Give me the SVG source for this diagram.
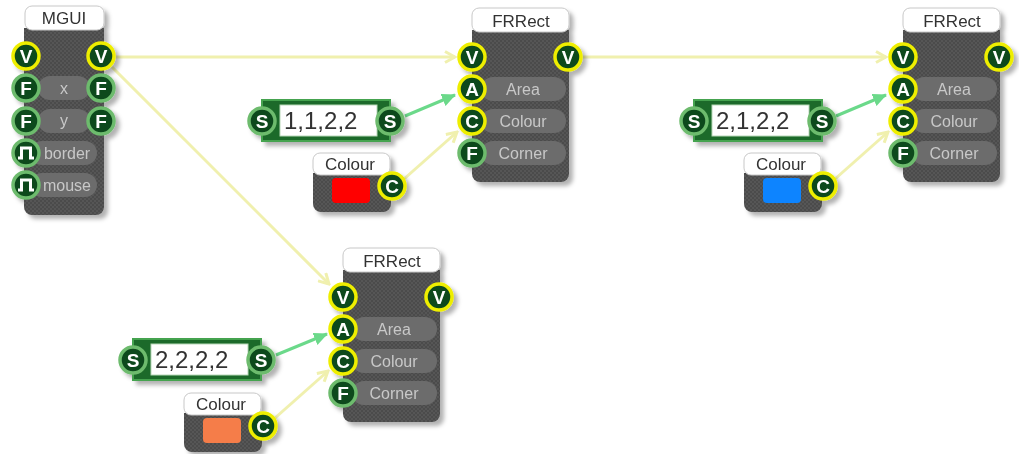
<svg xmlns="http://www.w3.org/2000/svg" width="1019" height="454" viewBox="0 0 1019 454">
<style>
.body{fill:url(#tex)}
.title{fill:#fff;stroke:#c8c8c8;stroke-width:1}
.tt{font-family:"Liberation Sans",Arial,sans-serif;font-size:17px;fill:#333;text-anchor:middle}
.pill{fill:#6c6c6c}
.pt{font-family:"Liberation Sans",Arial,sans-serif;font-size:16px;fill:#c8c8c8;text-anchor:middle}
.ry{fill:#0c4a1b;stroke:#eeee00;stroke-width:3.5}
.rg{fill:#0c4a1b;stroke:#6dbb6d;stroke-width:3.5}
.pl{font-family:"Liberation Sans",Arial,sans-serif;font-size:19px;font-weight:bold;fill:#fff;text-anchor:middle}
.pulse{fill:none;stroke:#fff;stroke-width:3;stroke-linejoin:miter}
.sframe{fill:#1d6b29;stroke:#45a350;stroke-width:2}
.sbox{fill:#fff;stroke:#b9d9b9;stroke-width:1}
.stxt{font-family:"Liberation Sans",Arial,sans-serif;font-size:24px;fill:#333}
.cy{fill:none;stroke:#f0f0ae;stroke-width:3;marker-end:url(#chev)}
.cg{fill:none;stroke:#6bd98a;stroke-width:3;marker-end:url(#tri)}
</style>
<defs>
<pattern id="tex" width="4" height="4" patternUnits="userSpaceOnUse">
<rect width="4" height="4" fill="#575757"/>
<rect width="2" height="2" fill="#4c4c4c"/>
<rect x="2" y="2" width="2" height="2" fill="#4c4c4c"/>
</pattern>
<filter id="sh" x="-20%" y="-20%" width="150%" height="150%">
<feDropShadow dx="4" dy="4" stdDeviation="2" flood-color="#000" flood-opacity="0.3"/>
</filter>
<marker id="chev" viewBox="0 0 14 14" markerWidth="14" markerHeight="14" refX="12" refY="7" orient="auto" markerUnits="userSpaceOnUse">
<path d="M2,1.5 L12,7 L2,12.5" fill="none" stroke="#f0f0ae" stroke-width="3"/>
</marker>
<marker id="tri" viewBox="0 0 14 14" markerWidth="14" markerHeight="14" refX="13" refY="7" orient="auto" markerUnits="userSpaceOnUse">
<path d="M0,0.5 L14,7 L0,13.5 Z" fill="#6bd98a"/>
</marker>
</defs>
<rect width="1019" height="454" fill="#fff"/>

<g id="connectors">
<path class="cy" d="M116,57 L455,57"/>
<path class="cy" d="M583,57 L886,57"/>
<path class="cy" d="M112,67 L329,284"/>
<path class="cg" d="M405,116 L455,95"/>
<path class="cy" d="M404,179 L457,132"/>
<path class="cg" d="M836,116 L886,95"/>
<path class="cy" d="M835,179 L888,132"/>
<path class="cg" d="M276,355 L327,334"/>
<path class="cy" d="M275,418 L328,371"/>
</g>

<g id="mgui" filter="url(#sh)">
<path class="body" d="M24,28 H104 V207 a8,8 0 0 1 -8,8 H32 a8,8 0 0 1 -8,-8 Z"/>
<rect class="title" x="25" y="6" width="79" height="24" rx="7"/>
<text class="tt" x="64" y="24">MGUI</text>
<rect class="pill" x="38" y="76" width="52" height="24" rx="12"/>
<text class="pt" x="64" y="94">x</text>
<rect class="pill" x="38" y="109" width="52" height="24" rx="12"/>
<text class="pt" x="64" y="126">y</text>
<rect class="pill" x="30" y="141" width="67" height="24" rx="12"/>
<text class="pt" x="67" y="159">border</text>
<rect class="pill" x="30" y="173" width="67" height="24" rx="12"/>
<text class="pt" x="67" y="191">mouse</text>
<circle class="ry" cx="26" cy="56" r="13"/><text class="pl" x="26" y="63">V</text>
<circle class="ry" cx="101" cy="56" r="13"/><text class="pl" x="101" y="63">V</text>
<circle class="rg" cx="26" cy="88" r="13"/><text class="pl" x="26" y="95">F</text>
<circle class="rg" cx="101" cy="88" r="13"/><text class="pl" x="101" y="95">F</text>
<circle class="rg" cx="26" cy="121" r="13"/><text class="pl" x="26" y="128">F</text>
<circle class="rg" cx="101" cy="121" r="13"/><text class="pl" x="101" y="128">F</text>
<circle class="rg" cx="26" cy="153" r="13"/><path class="pulse" d="M18,158 H21.5 V148 H30.5 V158 H34"/>
<circle class="rg" cx="26" cy="185" r="13"/><path class="pulse" d="M18,190 H21.5 V180 H30.5 V190 H34"/>
</g>

<g id="frrect1" transform="translate(472,8)" filter="url(#sh)">
<path class="body" d="M0,22 H97 V166 a8,8 0 0 1 -8,8 H8 a8,8 0 0 1 -8,-8 Z"/>
<rect class="title" x="0" y="0" width="97" height="24" rx="7"/>
<text class="tt" x="49" y="19">FRRect</text>
<rect class="pill" x="9" y="69" width="85" height="24" rx="12"/><text class="pt" x="51" y="87">Area</text>
<rect class="pill" x="9" y="101" width="85" height="24" rx="12"/><text class="pt" x="51" y="119">Colour</text>
<rect class="pill" x="9" y="133" width="85" height="24" rx="12"/><text class="pt" x="51" y="151">Corner</text>
<circle class="ry" cx="0" cy="49" r="13"/><text class="pl" x="0" y="56">V</text>
<circle class="ry" cx="96" cy="49" r="13"/><text class="pl" x="96" y="56">V</text>
<circle class="ry" cx="0" cy="81" r="13"/><text class="pl" x="0" y="88">A</text>
<circle class="ry" cx="0" cy="113" r="13"/><text class="pl" x="0" y="120">C</text>
<circle class="rg" cx="0" cy="145" r="13"/><text class="pl" x="0" y="152">F</text>
</g>

<g id="frrect2" transform="translate(903,8)" filter="url(#sh)">
<path class="body" d="M0,22 H97 V166 a8,8 0 0 1 -8,8 H8 a8,8 0 0 1 -8,-8 Z"/>
<rect class="title" x="0" y="0" width="97" height="24" rx="7"/>
<text class="tt" x="49" y="19">FRRect</text>
<rect class="pill" x="9" y="69" width="85" height="24" rx="12"/><text class="pt" x="51" y="87">Area</text>
<rect class="pill" x="9" y="101" width="85" height="24" rx="12"/><text class="pt" x="51" y="119">Colour</text>
<rect class="pill" x="9" y="133" width="85" height="24" rx="12"/><text class="pt" x="51" y="151">Corner</text>
<circle class="ry" cx="0" cy="49" r="13"/><text class="pl" x="0" y="56">V</text>
<circle class="ry" cx="96" cy="49" r="13"/><text class="pl" x="96" y="56">V</text>
<circle class="ry" cx="0" cy="81" r="13"/><text class="pl" x="0" y="88">A</text>
<circle class="ry" cx="0" cy="113" r="13"/><text class="pl" x="0" y="120">C</text>
<circle class="rg" cx="0" cy="145" r="13"/><text class="pl" x="0" y="152">F</text>
</g>

<g id="frrect3" transform="translate(343,248)" filter="url(#sh)">
<path class="body" d="M0,22 H97 V166 a8,8 0 0 1 -8,8 H8 a8,8 0 0 1 -8,-8 Z"/>
<rect class="title" x="0" y="0" width="97" height="24" rx="7"/>
<text class="tt" x="49" y="19">FRRect</text>
<rect class="pill" x="9" y="69" width="85" height="24" rx="12"/><text class="pt" x="51" y="87">Area</text>
<rect class="pill" x="9" y="101" width="85" height="24" rx="12"/><text class="pt" x="51" y="119">Colour</text>
<rect class="pill" x="9" y="133" width="85" height="24" rx="12"/><text class="pt" x="51" y="151">Corner</text>
<circle class="ry" cx="0" cy="49" r="13"/><text class="pl" x="0" y="56">V</text>
<circle class="ry" cx="96" cy="49" r="13"/><text class="pl" x="96" y="56">V</text>
<circle class="ry" cx="0" cy="81" r="13"/><text class="pl" x="0" y="88">A</text>
<circle class="ry" cx="0" cy="113" r="13"/><text class="pl" x="0" y="120">C</text>
<circle class="rg" cx="0" cy="145" r="13"/><text class="pl" x="0" y="152">F</text>
</g>

<g id="string1" transform="translate(262,121)" filter="url(#sh)">
<rect class="sframe" x="0" y="-21" width="128" height="41"/>
<rect class="sbox" x="18" y="-16" width="97" height="31"/>
<text class="stxt" x="22" y="8">1,1,2,2</text>
<circle class="rg" cx="0" cy="0" r="13"/><text class="pl" x="0" y="7">S</text>
<circle class="rg" cx="128" cy="0" r="13"/><text class="pl" x="128" y="7">S</text>
</g>

<g id="string2" transform="translate(694,121)" filter="url(#sh)">
<rect class="sframe" x="0" y="-21" width="128" height="41"/>
<rect class="sbox" x="18" y="-16" width="97" height="31"/>
<text class="stxt" x="22" y="8">2,1,2,2</text>
<circle class="rg" cx="0" cy="0" r="13"/><text class="pl" x="0" y="7">S</text>
<circle class="rg" cx="128" cy="0" r="13"/><text class="pl" x="128" y="7">S</text>
</g>

<g id="string3" transform="translate(133,360)" filter="url(#sh)">
<rect class="sframe" x="0" y="-21" width="128" height="41"/>
<rect class="sbox" x="18" y="-16" width="97" height="31"/>
<text class="stxt" x="22" y="8">2,2,2,2</text>
<circle class="rg" cx="0" cy="0" r="13"/><text class="pl" x="0" y="7">S</text>
<circle class="rg" cx="128" cy="0" r="13"/><text class="pl" x="128" y="7">S</text>
</g>

<g id="colour1" transform="translate(313,153)" filter="url(#sh)">
<path class="body" d="M0,20 H78 V51 a8,8 0 0 1 -8,8 H8 a8,8 0 0 1 -8,-8 Z"/>
<rect class="title" x="0" y="0" width="77" height="22" rx="7"/>
<text class="tt" x="37" y="17">Colour</text>
<rect x="19" y="25" width="38" height="25" rx="4" fill="#ff0000"/>
<circle class="ry" cx="79" cy="33" r="13"/><text class="pl" x="79" y="40">C</text>
</g>

<g id="colour2" transform="translate(744,153)" filter="url(#sh)">
<path class="body" d="M0,20 H78 V51 a8,8 0 0 1 -8,8 H8 a8,8 0 0 1 -8,-8 Z"/>
<rect class="title" x="0" y="0" width="77" height="22" rx="7"/>
<text class="tt" x="37" y="17">Colour</text>
<rect x="19" y="25" width="38" height="25" rx="4" fill="#0a84ff"/>
<circle class="ry" cx="79" cy="33" r="13"/><text class="pl" x="79" y="40">C</text>
</g>

<g id="colour3" transform="translate(184,393)" filter="url(#sh)">
<path class="body" d="M0,20 H78 V51 a8,8 0 0 1 -8,8 H8 a8,8 0 0 1 -8,-8 Z"/>
<rect class="title" x="0" y="0" width="77" height="22" rx="7"/>
<text class="tt" x="37" y="17">Colour</text>
<rect x="19" y="25" width="38" height="25" rx="4" fill="#f57d48"/>
<circle class="ry" cx="79" cy="33" r="13"/><text class="pl" x="79" y="40">C</text>
</g>
</svg>
